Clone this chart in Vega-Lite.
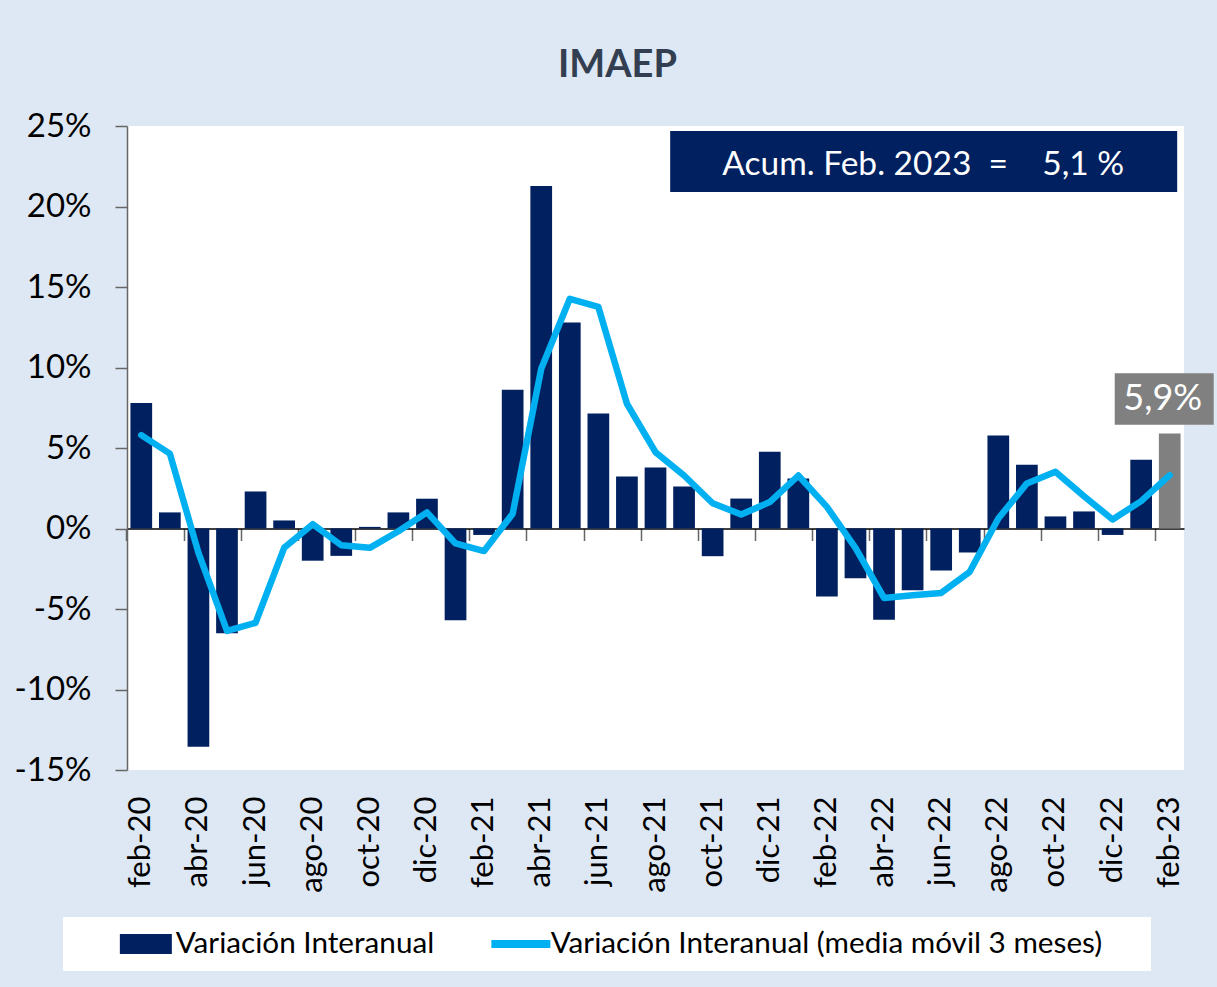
{
  "$schema": "https://vega.github.io/schema/vega-lite/v6.json",
  "width": 1057,
  "height": 644,
  "autosize": {"type": "none"},
  "padding": {"left": 127, "top": 126, "right": 33, "bottom": 217},
  "background": "#DEE8F4",
  "config": {
    "view": {"stroke": null, "fill": "#FFFFFF"},
    "font": "Lato",
    "axis": {"labelFont": "Lato"},
    "legend": {"labelFont": "Lato"}
  },
  "title": {
    "text": "IMAEP",
    "fontSize": 38,
    "font": "Lato",
    "fontWeight": "bold",
    "color": "#333F50",
    "anchor": "middle",
    "dx": -38,
    "offset": 25
  },
  "datasets": {
    "d": [
      {"mes": "feb-20", "v": 7.8, "mm": 5.8},
      {"mes": "mar-20", "v": 1.0, "mm": 4.65},
      {"mes": "abr-20", "v": -13.55, "mm": -1.5},
      {"mes": "may-20", "v": -6.5, "mm": -6.36},
      {"mes": "jun-20", "v": 2.3, "mm": -5.86},
      {"mes": "jul-20", "v": 0.5, "mm": -1.2},
      {"mes": "ago-20", "v": -2.0, "mm": 0.27},
      {"mes": "sep-20", "v": -1.7, "mm": -1.04},
      {"mes": "oct-20", "v": 0.1, "mm": -1.2},
      {"mes": "nov-20", "v": 1.0, "mm": -0.17},
      {"mes": "dic-20", "v": 1.85, "mm": 1.0},
      {"mes": "ene-21", "v": -5.7, "mm": -0.93},
      {"mes": "feb-21", "v": -0.4, "mm": -1.4},
      {"mes": "mar-21", "v": 8.62, "mm": 0.92},
      {"mes": "abr-21", "v": 21.28, "mm": 9.92},
      {"mes": "may-21", "v": 12.8, "mm": 14.27},
      {"mes": "jun-21", "v": 7.15, "mm": 13.76},
      {"mes": "jul-21", "v": 3.23, "mm": 7.75},
      {"mes": "ago-21", "v": 3.79, "mm": 4.74},
      {"mes": "sep-21", "v": 2.61, "mm": 3.29},
      {"mes": "oct-21", "v": -1.72, "mm": 1.57},
      {"mes": "nov-21", "v": 1.86, "mm": 0.87},
      {"mes": "dic-21", "v": 4.77, "mm": 1.64},
      {"mes": "ene-22", "v": 3.1, "mm": 3.29},
      {"mes": "feb-22", "v": -4.23, "mm": 1.34},
      {"mes": "mar-22", "v": -3.09, "mm": -1.2},
      {"mes": "abr-22", "v": -5.66, "mm": -4.31},
      {"mes": "may-22", "v": -3.83, "mm": -4.14},
      {"mes": "jun-22", "v": -2.61, "mm": -4.0},
      {"mes": "jul-22", "v": -1.49, "mm": -2.69},
      {"mes": "ago-22", "v": 5.78, "mm": 0.62},
      {"mes": "sep-22", "v": 3.96, "mm": 2.8},
      {"mes": "oct-22", "v": 0.75, "mm": 3.52},
      {"mes": "nov-22", "v": 1.06, "mm": 2.0},
      {"mes": "dic-22", "v": -0.4, "mm": 0.56},
      {"mes": "ene-23", "v": 4.27, "mm": 1.7},
      {"mes": "feb-23", "v": 5.9, "mm": 3.31}
    ]
  },
  "data": {"name": "d"},
  "layer": [
    {
      "transform": [{"filter": "datum.mes !== 'feb-23'"}],
      "mark": {"type": "bar"},
      "encoding": {
        "x": {
          "field": "mes",
          "type": "ordinal",
          "sort": null,
          "scale": {
            "domain": ["feb-20","mar-20","abr-20","may-20","jun-20","jul-20","ago-20","sep-20","oct-20","nov-20","dic-20","ene-21","feb-21","mar-21","abr-21","may-21","jun-21","jul-21","ago-21","sep-21","oct-21","nov-21","dic-21","ene-22","feb-22","mar-22","abr-22","may-22","jun-22","jul-22","ago-22","sep-22","oct-22","nov-22","dic-22","ene-23","feb-23"],
            "paddingInner": 0.24,
            "paddingOuter": 0.12
          },
          "axis": {
            "orient": "bottom",
            "offset": -241.5,
            "values": ["feb-20","abr-20","jun-20","ago-20","oct-20","dic-20","feb-21","abr-21","jun-21","ago-21","oct-21","dic-21","feb-22","abr-22","jun-22","ago-22","oct-22","dic-22","feb-23"],
            "bandPosition": -0.158,
            "labels": false,
            "ticks": true,
            "tickSize": 12,
            "tickColor": "#666666",
            "tickWidth": 1.5,
            "domainColor": "#000000",
            "domainWidth": 1.5,
            "title": null,
            "grid": false
          }
        },
        "y": {
          "field": "v",
          "type": "quantitative",
          "scale": {"domain": [-15, 25], "nice": false, "zero": false},
          "axis": {
            "values": [-15, -10, -5, 0, 5, 10, 15, 20, 25],
            "labelExpr": "datum.value + '%'",
            "labelFontSize": 33,
            "labelColor": "#000000",
            "labelPadding": 24,
            "tickSize": 12,
            "tickColor": "#666666",
            "tickWidth": 1.5,
            "domainColor": "#666666",
            "domainWidth": 1.5,
            "grid": false,
            "title": null
          }
        },
        "color": {
          "datum": "Variación Interanual",
          "type": "nominal",
          "scale": {
            "domain": ["Variación Interanual", "Variación Interanual (media móvil 3 meses)"],
            "range": ["#002060", "#00B0F0"]
          },
          "legend": {
            "orient": "none",
            "legendX": -64,
            "legendY": 791,
            "direction": "horizontal",
            "title": "\u00a0",
            "titleOrient": "right",
            "titleFontSize": 1,
            "titlePadding": 37,
            "fillColor": "#FFFFFF",
            "strokeColor": null,
            "padding": 12,
            "labelFontSize": 29.7,
            "labelColor": "#000000",
            "labelLimit": 1000,
            "symbolSize": 400,
            "labelOffset": 15,
            "columnPadding": 15,
            "symbolOffset": 56,
            "encode": {
              "symbols": {
                "update": {
                  "shape": {"signal": "datum.value === 'Variación Interanual' ? 'M-2.6,-1H2.6V1H-2.6Z' : 'M-2.95,-0.4H2.95V0.4H-2.95Z'"},
                  "fill": {"scale": "color", "field": "value"},
                  "stroke": {"value": "transparent"},
                  "strokeWidth": {"value": 0},
                  "opacity": {"value": 1}
                }
              }
            }
          }
        }
      }
    },
    {
      "transform": [{"filter": "datum.mes === 'feb-23'"}],
      "mark": {"type": "bar", "color": "#808080"},
      "encoding": {
        "x": {"field": "mes", "type": "ordinal", "sort": null, "axis": null},
        "y": {"field": "v", "type": "quantitative"}
      }
    },
    {
      "mark": {"type": "line", "strokeWidth": 6.5, "strokeCap": "round", "strokeJoin": "round"},
      "encoding": {
        "x": {
          "field": "mes",
          "type": "ordinal",
          "sort": null,
          "axis": {
            "orient": "bottom",
            "values": ["feb-20","abr-20","jun-20","ago-20","oct-20","dic-20","feb-21","abr-21","jun-21","ago-21","oct-21","dic-21","feb-22","abr-22","jun-22","ago-22","oct-22","dic-22","feb-23"],
            "labelAngle": -90,
            "ticks": false,
            "tickSize": 0,
            "domain": false,
            "labelFontSize": 31,
            "labelColor": "#000000",
            "labelPadding": 26,
            "title": null,
            "grid": false
          }
        },
        "y": {"field": "mm", "type": "quantitative"},
        "color": {"datum": "Variación Interanual (media móvil 3 meses)", "type": "nominal"}
      }
    },
    {
      "data": {"values": [{}]},
      "mark": {"type": "bar", "width": 507, "xOffset": -17.5, "color": "#002060"},
      "encoding": {
        "x": {"datum": "jun-22", "type": "ordinal", "axis": null},
        "y": {"datum": 24.69, "type": "quantitative"},
        "y2": {"datum": 20.9}
      }
    },
    {
      "data": {"values": [{}]},
      "mark": {"type": "text", "text": "Acum. Feb. 2023\u00a0\u00a0=\u00a0\u00a0\u00a0\u00a05,1\u00a0%", "fontSize": 33.5, "font": "Lato", "color": "#FFFFFF", "align": "center", "baseline": "alphabetic", "dx": -18},
      "encoding": {
        "x": {"datum": "jun-22", "type": "ordinal", "axis": null},
        "y": {"datum": 21.95, "type": "quantitative"}
      }
    },
    {
      "data": {"values": [{}]},
      "mark": {"type": "bar", "width": 99, "xOffset": -5.5, "color": "#808080"},
      "encoding": {
        "x": {"datum": "feb-23", "type": "ordinal", "axis": null},
        "y": {"datum": 9.65, "type": "quantitative"},
        "y2": {"datum": 6.45}
      }
    },
    {
      "data": {"values": [{}]},
      "mark": {"type": "text", "text": "5,9%", "fontSize": 36, "font": "Lato", "color": "#FFFFFF", "align": "center", "baseline": "alphabetic", "dx": -7},
      "encoding": {
        "x": {"datum": "feb-23", "type": "ordinal", "axis": null},
        "y": {"datum": 7.35, "type": "quantitative"}
      }
    }
  ],
  "resolve": {"axis": {"x": "independent"}}
}
